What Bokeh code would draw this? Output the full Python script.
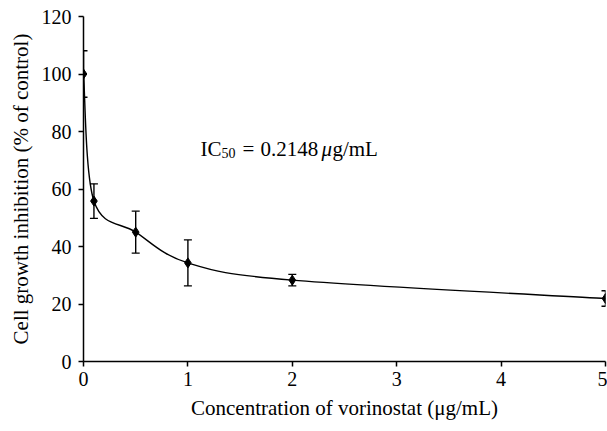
from bokeh.plotting import figure
from bokeh.models import Range1d, Whisker, ColumnDataSource, TeeHead, FixedTicker
from bokeh.core.properties import value
from bokeh.embed import file_html
from bokeh.resources import INLINE

# ---- data ----
concentration = [0, 0.1, 0.5, 1, 2, 5]
inhibition = [100, 55.8, 45.0, 34.3, 28.3, 21.9]
error = [8.1, 6.0, 7.3, 8.0, 2.0, 2.7]
x_ticks = [0, 1, 2, 3, 4, 5]
y_ticks = [0, 20, 40, 60, 80, 100, 120]
ic50_text = "0.2148"

FONT = "Liberation Serif"

p = figure(width=607, height=431, output_backend="svg", toolbar_location=None,
           x_range=Range1d(0, 5), y_range=Range1d(0, 120),
           min_border_left=83, min_border_right=2, min_border_top=16, min_border_bottom=70)
p.outline_line_color = None
p.xgrid.visible = False
p.ygrid.visible = False
p.background_fill_color = "white"
p.border_fill_color = "white"

for ax in (p.xaxis[0], p.yaxis[0]):
    ax.axis_line_color = "black"
    ax.axis_line_width = 1.5
    ax.major_tick_line_color = "black"
    ax.major_tick_line_width = 1.5
    ax.major_tick_in = 0
    ax.major_tick_out = 5
    ax.minor_tick_line_color = None
    ax.major_label_text_font = FONT
    ax.major_label_text_font_size = "20px"
    ax.major_label_text_color = "black"
    ax.axis_label_text_font = FONT
    ax.axis_label_text_font_size = "21px"
    ax.axis_label_text_font_style = "normal"
    ax.axis_label_text_color = "black"

p.xaxis.ticker = FixedTicker(ticks=x_ticks)
p.yaxis.ticker = FixedTicker(ticks=y_ticks)
p.xaxis.major_label_standoff = 5
p.yaxis.major_label_standoff = 7
p.xaxis.axis_label = "Concentration of vorinostat (μg/mL)"
p.yaxis.axis_label = "Cell growth inhibition (% of control)"
p.xaxis.axis_label_standoff = 7
p.yaxis.axis_label_standoff = 6

# ---- smooth curve (Catmull-Rom style Bezier through the data points) ----
n = len(concentration)
x0s, y0s, x1s, y1s, cx0s, cy0s, cx1s, cy1s = [], [], [], [], [], [], [], []
for i in range(n - 1):
    pa = (concentration[max(i - 1, 0)], inhibition[max(i - 1, 0)])
    pb = (concentration[i], inhibition[i])
    pc = (concentration[i + 1], inhibition[i + 1])
    pd = (concentration[min(i + 2, n - 1)], inhibition[min(i + 2, n - 1)])
    x0s.append(pb[0]); y0s.append(pb[1])
    x1s.append(pc[0]); y1s.append(pc[1])
    cx0s.append(pb[0] + (pc[0] - pa[0]) / 6.0)
    cy0s.append(pb[1] + (pc[1] - pa[1]) / 6.0)
    cx1s.append(pc[0] - (pd[0] - pb[0]) / 6.0)
    cy1s.append(pc[1] - (pd[1] - pb[1]) / 6.0)

p.bezier(x0=x0s, y0=y0s, x1=x1s, y1=y1s, cx0=cx0s, cy0=cy0s, cx1=cx1s, cy1=cy1s,
         line_color="black", line_width=1.4)

# ---- error bars ----
src = ColumnDataSource(dict(
    x=concentration,
    upper=[v + e for v, e in zip(inhibition, error)],
    lower=[v - e for v, e in zip(inhibition, error)],
))
w = Whisker(source=src, base="x", upper="upper", lower="lower",
            line_color="black", line_width=1.4,
            upper_head=TeeHead(size=8, line_color="black", line_width=1.4),
            lower_head=TeeHead(size=8, line_color="black", line_width=1.4))
p.add_layout(w)

# ---- markers ----
p.scatter(concentration, inhibition, marker="diamond", size=10,
          fill_color="black", line_color="black")

# ---- IC50 annotation ----
ax_, ay_ = 1.12, 74.0
common = dict(text_baseline="alphabetic", text_align="left", text_color="black")
p.text(x=[ax_], y=[ay_], text=["IC"], text_font=value(FONT), text_font_size="21px", **common)
p.text(x=[ax_], y=[ay_], text=["50"], text_font=value(FONT), text_font_size="14px",
       x_offset=21, y_offset=4.5, **common)
p.text(x=[ax_], y=[ay_], text=["="], text_font=value(FONT), text_font_size="21px",
       x_offset=42, **common)
p.text(x=[ax_], y=[ay_], text=[ic50_text], text_font=value(FONT), text_font_size="21px",
       x_offset=60, **common)
p.text(x=[ax_], y=[ay_], text=["μ"], text_font=value(FONT), text_font_size="21px",
       text_font_style="italic", x_offset=121, **common)
p.text(x=[ax_], y=[ay_], text=["g/mL"], text_font=value(FONT), text_font_size="21px",
       x_offset=132, **common)

open("out.html", "w").write(file_html(p, INLINE))
